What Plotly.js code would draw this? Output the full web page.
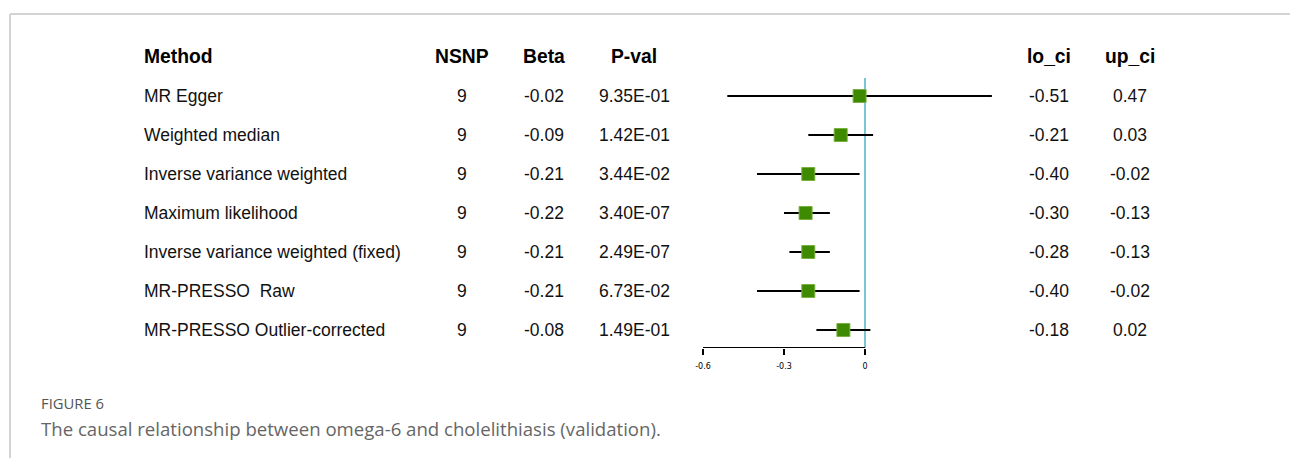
<!DOCTYPE html>
<html>
<head>
<meta charset="utf-8">
<script src="https://cdn.plot.ly/plotly-3.0.1.min.js"></script>
<style>
html,body{margin:0;padding:0;background:#fff;}
#chart{width:1290px;height:458px;}
</style>
</head>
<body>
<div id="chart"></div>
<script>
// ---- data ----
const methods = ["MR Egger","Weighted median","Inverse variance weighted","Maximum likelihood","Inverse variance weighted (fixed)","MR-PRESSO\u00a0 Raw","MR-PRESSO Outlier-corrected"];
const nsnp = [9,9,9,9,9,9,9];
const beta = [-0.02,-0.09,-0.21,-0.22,-0.21,-0.21,-0.08];
const pval = ["9.35E-01","1.42E-01","3.44E-02","3.40E-07","2.49E-07","6.73E-02","1.49E-01"];
const loCi = [-0.51,-0.21,-0.40,-0.30,-0.28,-0.40,-0.18];
const upCi = [0.47,0.03,-0.02,-0.13,-0.13,-0.02,0.02];
const headers = ["Method","NSNP","Beta","P-val","lo_ci","up_ci"];
const tickVals = [-0.6,-0.3,0];
const tickText = ["-0.6","-0.3","0"];

// ---- layout helpers ----
const W = 1290, H = 458;
const px = v => v / W;
const rows = methods.map((_, i) => i + 1);
const fmt2 = v => v.toFixed(2);

// column x positions (pixels) and anchors
const cols = [
  {x:142, anchor:"left", vals: methods},
  {x:462, anchor:"center", vals: nsnp.map(String)},
  {x:544, anchor:"center", vals: beta.map(fmt2)},
  {x:634, anchor:"center", vals: pval},
  {x:1049, anchor:"center", vals: loCi.map(fmt2)},
  {x:1130, anchor:"center", vals: upCi.map(fmt2)}
];

const annotations = [];
const bodyFont = {family:"Liberation Sans, Arial, sans-serif", size:17.5, color:"#111"};
const headFont = {family:"Liberation Sans, Arial, sans-serif", size:19.3, color:"#000", weight:"bold"};
cols.forEach((c, ci) => {
  annotations.push({xref:"paper", yref:"y", x:px(c.x), y:0, text:"<b>"+headers[ci]+"</b>",
    showarrow:false, xanchor:c.anchor, yanchor:"middle", font:headFont});
  c.vals.forEach((v, ri) => {
    annotations.push({xref:"paper", yref:"y", x:px(c.x), y:rows[ri], text:v,
      showarrow:false, xanchor:c.anchor, yanchor:"middle", font:bodyFont});
  });
});
// caption
annotations.push({xref:"paper", yref:"paper", x:px(39), y:1-403/H, text:"FIGURE 6",
  showarrow:false, xanchor:"left", yanchor:"middle",
  font:{family:"Open Sans, Noto Sans, sans-serif", size:14.8, color:"#555"}});
annotations.push({xref:"paper", yref:"paper", x:px(39), y:1-428/H,
  text:"The causal relationship between omega-6 and cholelithiasis (validation).",
  showarrow:false, xanchor:"left", yanchor:"middle",
  font:{family:"Open Sans, Noto Sans, sans-serif", size:18.6, color:"#666"}});

const trace = {
  type:"scatter", mode:"markers",
  x: beta, y: rows,
  marker:{symbol:"square", size:13, color:"#3e8a00", line:{color:"#7ab040", width:1}},
  error_x:{type:"data", symmetric:false,
    array: upCi.map((u,i)=>u-beta[i]),
    arrayminus: beta.map((b,i)=>b-loCi[i]),
    color:"#000", thickness:2, width:0},
  hoverinfo:"skip", showlegend:false
};

// y geometry: row 1 at 96px, spacing 39px, header (0) at 57px
const yBottomPx = 348, yTopPx = 40;
const yAt = p => (p - 57) / 39;
const layout = {
  width:W, height:H,
  margin:{l:0,r:0,t:0,b:0},
  paper_bgcolor:"#fff", plot_bgcolor:"rgba(0,0,0,0)",
  showlegend:false,
  xaxis:{domain:[px(703), px(1000)], range:[-0.6, 0.5], showgrid:false, zeroline:false,
    showline:false, tickmode:"array", tickvals:tickVals, ticktext:tickText,
    ticks:"outside", ticklen:6, tickwidth:2, tickcolor:"#000", ticklabelstandoff:4,
    tickfont:{family:"DejaVu Sans, sans-serif", size:8, color:"#000"}, fixedrange:true},
  yaxis:{domain:[1-yBottomPx/H, 1-yTopPx/H], range:[yAt(yBottomPx), yAt(yTopPx)],
    visible:false, showgrid:false, zeroline:false, fixedrange:true},
  shapes:[
    // figure frame
    {type:"line", xref:"paper", yref:"paper", x0:px(10), x1:1, y0:1-14/H, y1:1-14/H, line:{color:"#d3d3d3", width:2}},
    {type:"line", xref:"paper", yref:"paper", x0:px(10), x1:px(10), y0:1-14/H, y1:0, line:{color:"#d3d3d3", width:2}},
    // reference line at 0
    {type:"line", xref:"x", yref:"y", x0:0, x1:0, y0:yAt(78), y1:yAt(yBottomPx), line:{color:"#4fb3c8", width:1.5}, layer:"below"},
    // axis line from -0.6 to 0
    {type:"line", xref:"x", yref:"y", x0:tickVals[0], x1:tickVals[tickVals.length-1], y0:yAt(yBottomPx), y1:yAt(yBottomPx), line:{color:"#000", width:2}}
  ],
  annotations: annotations
};

Plotly.newPlot("chart", [trace], layout, {displayModeBar:false, staticPlot:true});
</script>
</body>
</html>
